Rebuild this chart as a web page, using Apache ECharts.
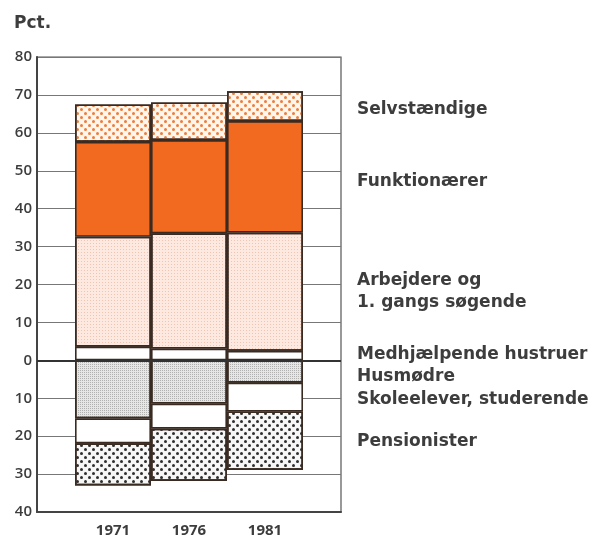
<!DOCTYPE html>
<html>
<head>
<meta charset="utf-8">
<script src="https://cdn.jsdelivr.net/npm/echarts@6/dist/echarts.min.js"></script>
<style>
  html, body { margin: 0; padding: 0; background: #fff; }
  #main { width: 596px; height: 541px; }
</style>
</head>
<body>
<div id="main"></div>
<script>
// år (tomme kategorier i kanterne giver luft som i originalen)
const years = ['', '1971', '1976', '1981', ''];

// over nul (pct.)
const medhjaelpende = ['-', 3.6, 3.1, 2.5, '-'];
const arbejdere = ['-', 29.0, 30.4, 31.2, '-'];
const funktionaerer = ['-', 25.0, 24.6, 29.4, '-'];
const selvstaendige = ['-', 9.9, 9.9, 7.9, '-'];

// under nul (pct., vist som negative)
const husmoedre = ['-', -15.3, -11.4, -5.9, '-'];
const skoleelever = ['-', -6.6, -6.6, -7.6, '-'];
const pensionister = ['-', -11.1, -13.8, -15.4, '-'];

const yTicks = [-40, 80, 10];

const chart = echarts.init(document.getElementById('main'));

const edge = '#3a2b22';
const txt = '#3d3d3d';

function makeBar(name, values, color, decal, labelOffset) {
  return {
    name: name,
    type: 'bar',
    stack: 'total',
    barWidth: 76,
    data: values,
    itemStyle: {
      color: color,
      borderColor: edge,
      borderWidth: 1.6,
      decal: decal
    },
    label: {
      show: true,
      position: 'right',
      distance: 54,
      offset: labelOffset || [0, 0],
      formatter: p => p.dataIndex === 3 ? name : '',
      color: txt,
      fontFamily: 'DejaVu Sans',
      fontWeight: 'bold',
      fontSize: 17,
      lineHeight: 22
    },
    emphasis: { disabled: true }
  };
}

const option = {
  animation: false,
  title: {
    text: 'Pct.',
    left: 9,
    top: 10,
    textStyle: { fontFamily: 'DejaVu Sans', fontWeight: 'bold', fontSize: 17, color: txt }
  },
  grid: { left: 37, top: 57, right: 255, bottom: 29, show: true, borderColor: '#555', borderWidth: 1.2 },
  xAxis: {
    type: 'category',
    data: years,
    boundaryGap: false,
    axisLine: { show: true, onZero: false, lineStyle: { color: '#444', width: 2 } },
    axisTick: { show: false },
    splitLine: { show: false },
    axisLabel: {
      color: txt,
      fontFamily: 'Open Sans',
      fontWeight: 'bold',
      fontSize: 15,
      margin: 11
    }
  },
  yAxis: {
    type: 'value',
    min: yTicks[0],
    max: yTicks[1],
    interval: yTicks[2],
    axisLine: { show: true, lineStyle: { color: '#444', width: 2 } },
    axisTick: { show: false },
    splitLine: { lineStyle: { color: '#777', width: 1 } },
    axisLabel: {
      formatter: v => Math.abs(v),
      color: txt,
      fontFamily: 'Open Sans',
      fontWeight: 600,
      fontSize: 15,
      margin: 5
    }
  },
  series: [
    makeBar('Medhjælpende hustruer', medhjaelpende, '#ffffff', null, [0, -1]),
    makeBar('Arbejdere og\n1. gangs søgende', arbejdere, '#fde9e0', {
      symbol: 'rect', symbolSize: 1, color: 'rgba(225,150,120,0.45)',
      dashArrayX: [1, 2], dashArrayY: [1, 2]
    }, [0, 0]),
    makeBar('Funktionærer', funktionaerer, '#f26a1f', null, [0, 5]),
    makeBar('Selvstændige', selvstaendige, '#fff6f0', {
      symbol: 'circle', symbolSize: 1, color: '#f47a2e',
      dashArrayX: [[3, 5], [0, 4, 3, 1]], dashArrayY: [3, 1]
    }, [0, 3]),
    makeBar('Husmødre', husmoedre, '#e6e6e6', {
      symbol: 'rect', symbolSize: 1, color: 'rgba(110,110,110,0.45)',
      dashArrayX: [1, 1], dashArrayY: [1, 1]
    }, [0, 5]),
    makeBar('Skoleelever, studerende', skoleelever, '#ffffff', null, [0, 2]),
    Object.assign(makeBar('Pensionister', pensionister, '#f6f6f6', {
      symbol: 'circle', symbolSize: 1, color: '#2e2e2e',
      dashArrayX: [[3, 4.3], [0, 3.6, 3, 0.7]], dashArrayY: [3, 0.7]
    }, [0, 1]), {
      markLine: {
        silent: true,
        symbol: 'none',
        label: { show: false },
        lineStyle: { color: '#333', width: 2, type: 'solid' },
        data: [{ yAxis: 0 }]
      }
    })
  ]
};

chart.setOption(option);
</script>
</body>
</html>
